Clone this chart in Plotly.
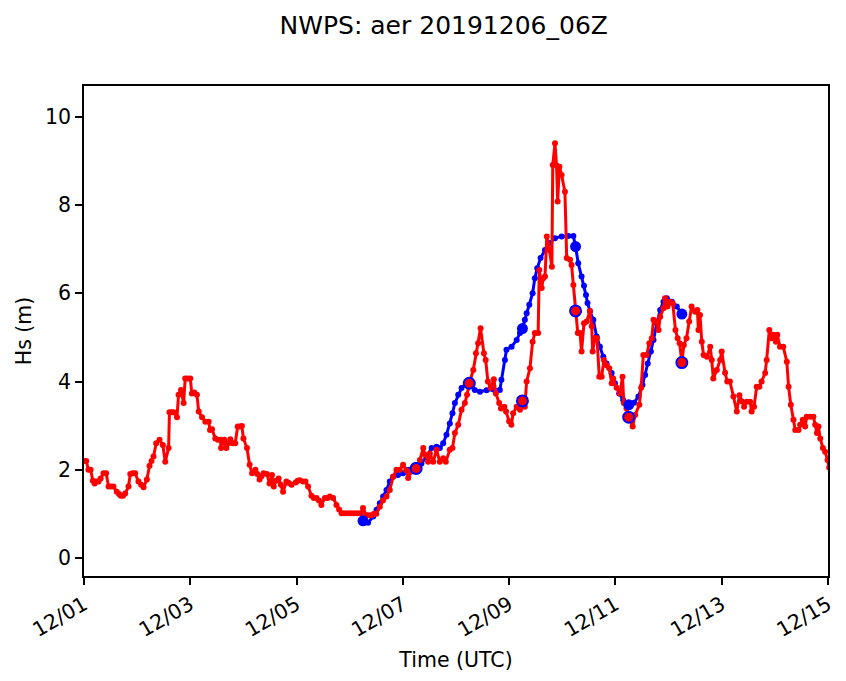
import pandas as pd
import plotly.graph_objects as go

# NWPS significant wave height, obs vs model run 20191206_06Z
start = pd.Timestamp("2019-12-01 00:00")

# observations (hours after 12/01 00Z, Hs in m)
obs_hours = [0, 1, 2, 3, 4, 4.8, 5.6, 6.6, 7.5, 8.8, 10, 11.1, 12.2, 13.3, 14.8, 15.8, 16.6, 17.6,
             18.6, 20.1, 20.9, 22, 23.1, 24.6, 25.8, 26.9, 28.4, 29.6, 30.5, 31.4, 32.6, 34.1, 35.6,
             36.7, 38.2, 38.6, 39.6, 40.5, 42, 42.7, 43.8, 45, 45.7, 46.8, 48, 48.7, 49.8, 51, 51.8,
             53.3, 54.8, 56.3, 56.9, 57.8, 59.3, 60.5, 61.6, 61.9, 63.4, 64.3, 65.2, 66.1, 67.2, 68.3,
             69.4, 70.4, 71.3, 72, 73.6, 74.8, 75.9, 77.4, 78.3, 79.3, 80.2, 81.1, 82.6, 83.8, 84.9,
             85.7, 86.8, 87.9, 88.9, 89.9, 91.4, 92.5, 93.7, 95.6, 96.5, 97.4, 98.9, 100, 101.2,
             102.7, 103.8, 105, 106.1, 107.2, 108.8, 110, 111, 112.5, 114, 115.2, 116.3, 117.5, 119,
             120.5, 122, 123.5, 125, 126, 127.5, 128.7, 129.8, 131, 132, 133.6, 135, 136.6, 138.1,
             139.6, 141.1, 142.6, 144.1, 145.6, 146.4, 147.9, 149, 150, 151.7, 153.2, 154, 155.4,
             156.2, 157.7, 159.2, 160.7, 162.2, 163.4, 165.2, 166.4, 167.5, 169, 170.5, 172, 173,
             174, 175.8, 177, 178, 179.1, 180.6, 181.4, 182.4, 183.6, 185.1, 186, 187.5, 188.3,
             189.8, 190.6, 192, 193, 193.8, 195.4, 196.9, 198, 199.1, 199.9, 201.4, 202.6, 203.6,
             205.1, 205.6, 206.7, 207.4, 208.2, 209, 210.2, 211.3, 211.7, 212.7, 213.4, 213.9,
             214.7, 215.7, 217.2, 218, 219.5, 220.2, 221, 222, 223, 224, 224.7, 225.8, 227, 228.5,
             229.3, 229.7, 230.7, 231.7, 232.7, 233.8, 234.8, 236, 237.2, 238.3, 239, 240.5, 242,
             243.2, 243.8, 245, 246, 247.8, 248.9, 250.8, 251.6, 252.6, 254.1, 255.3, 256.4, 257.2,
             258.4, 259.5, 260.2, 261.7, 262.4, 263.5, 264.7, 265.9, 267.1, 268.1, 269, 270, 270.9,
             272.1, 273.3, 274.4, 276, 277, 277.5, 278.2, 279, 279.8, 281.3, 282.8, 283.5, 284.2,
             285.8, 287.3, 288, 289.5, 290.5, 291.7, 293.3, 294.8, 296, 297, 298.1, 299.3, 300.8,
             301.5, 302.6, 303.8, 305, 306, 307.6, 308.3, 309.5, 310.5, 311.3, 312.5, 313.1, 314.3,
             315.8, 317.4, 318.2, 319.2, 320.4, 321.2, 322.7, 323.4, 324.6, 325.7, 326.4, 327.9,
             329.4, 330.2, 331, 331.7, 332.5, 333.7, 334.7, 335.8, 336.5]
obs_hs = [2.2, 2.2, 2.0, 2.0, 1.75, 1.69, 1.73, 1.73, 1.8, 1.92, 1.92, 1.62, 1.62, 1.62, 1.5, 1.45, 1.41, 1.41,
          1.46, 1.62, 1.9, 1.92, 1.92, 1.73, 1.66, 1.6, 1.78, 2.09, 2.2, 2.3, 2.6, 2.68, 2.56,
          2.18, 2.49, 3.3, 3.3, 3.3, 3.19, 3.7, 3.81, 3.51, 4.07, 4.07, 4.07, 3.73, 3.75, 3.7, 3.32,
          3.19, 3.09, 3.09, 2.9, 2.92, 2.71, 2.68, 2.68, 2.49, 2.68, 2.49, 2.6, 2.69, 2.6, 2.6,
          2.98, 2.98, 2.99, 2.71, 2.49, 2.11, 1.92, 2.0, 1.9, 1.78, 1.85, 1.92, 1.9, 1.69, 1.88,
          1.62, 1.75, 1.8, 1.66, 1.5, 1.73, 1.7, 1.66, 1.71, 1.75, 1.76, 1.73, 1.73, 1.62,
          1.41, 1.36, 1.36, 1.3, 1.2, 1.36, 1.36, 1.39, 1.36, 1.2, 1.1, 1.01, 1.01, 1.01,
          1.01, 1.01, 1.01, 1.01, 1.13, 0.97, 0.97, 0.97, 1.0, 1.0, 1.16, 1.3, 1.39, 1.54,
          1.84, 2.0, 2.0, 2.11, 1.99, 1.81, 1.96, 2.0, 2.03, 2.22, 2.49, 2.34, 2.18,
          2.37, 2.18, 2.45, 2.18, 2.26, 2.18, 2.45, 2.49, 2.83, 3.02, 3.36, 3.51, 3.7,
          3.96, 4.26, 4.64, 4.87, 5.21, 4.64, 4.49, 4.0, 3.85, 4.05, 3.73, 3.51, 3.39,
          3.43, 3.32, 3.1, 3.02, 3.28, 3.43, 3.36, 3.56, 3.43, 4.0, 4.3, 4.9, 5.1,
          5.1, 6.53, 6.12, 6.34, 6.38, 7.29, 6.98, 6.6, 8.91, 9.4, 8.9, 8.08,
          8.87, 8.68, 8.3, 6.8, 6.76, 6.64, 6.19, 5.6, 5.1, 5.1, 4.68, 5.32, 5.36, 5.6,
          5.25, 4.68, 4.98, 4.98, 4.11, 4.11, 4.49, 4.37, 4.3, 3.96, 4.07, 3.86, 3.73,
          4.11, 3.51, 3.39, 3.19, 2.98, 3.24, 3.47, 3.86, 4.6, 4.6, 4.87, 4.98, 5.4,
          5.36, 5.17, 5.47, 5.66, 5.89, 5.7, 5.81, 5.77, 5.17, 4.98, 4.87, 4.43, 4.83,
          4.98, 5.36, 5.7, 5.58, 5.62, 5.17, 5.51, 4.9, 4.6, 4.56, 4.79, 4.49, 4.07,
          4.26, 4.49, 4.68, 4.2, 4.0, 4.0, 3.66, 3.32, 3.69, 3.55, 3.43, 3.54, 3.54,
          3.32, 3.43, 3.88, 3.88, 4.0, 4.19, 4.49, 5.17, 4.98, 5.06, 4.9, 5.06, 4.79,
          4.79, 4.45, 3.88, 3.47, 3.13, 2.9, 2.9, 3.02, 3.13, 2.98, 3.2, 3.2,
          3.2, 3.02, 2.83, 2.98, 2.71, 2.49, 2.41, 2.22, 2.05]

# model forecast from the 12/06 06Z cycle
model_hours = [126, 128.3, 130.6, 132.1, 133.6, 135.1, 136.6, 138.1, 139.6, 141.8, 144.1, 146.4, 148.7,
               150, 152.4, 154.7, 157, 159.2, 160.7, 162.2, 163.7, 165.2, 166.4, 167.5, 169, 170.5,
               172.7, 174, 176.5, 178.8, 181.8, 184.8, 187.8, 188.5, 190.1, 190.8, 193.1, 195.4,
               196.9, 198, 199.1, 199.9, 201.1, 202.6, 203.6, 204.7, 206.2, 208.2, 210.4, 212.7,
               215.7, 218.7, 221, 222, 223.2, 224.7, 225.8, 226.7, 227.4, 228.5, 230, 231.5, 233,
               234.5, 236, 238.3, 239.8, 241.7, 243.5, 246, 248.4, 250.4, 252.2, 253.4, 254.6, 256,
               257.2, 258.7, 260.2, 261.7, 263.2, 265.5, 267.7, 270]
model_hs = [0.84, 0.8, 0.94, 1.09, 1.24, 1.39, 1.54, 1.73, 1.84, 1.88, 1.92, 2.0, 2.03,
            2.05, 2.14, 2.3, 2.49, 2.52, 2.49, 2.6, 2.79, 3.05, 3.28, 3.51, 3.7, 3.85,
            3.96, 3.97, 3.81, 3.77, 3.8, 3.82, 3.81, 4.04, 4.49, 4.72, 4.79, 4.94,
            5.1, 5.2, 5.4, 5.55, 5.74, 6.0, 6.34, 6.57, 6.8, 6.98, 7.14, 7.25,
            7.29, 7.3, 7.3, 7.06, 6.68, 6.38, 6.17, 5.96, 5.78, 5.59, 5.4, 5.02, 4.79,
            4.56, 4.41, 4.19, 3.96, 3.73, 3.58, 3.47, 3.52, 3.66, 3.92, 4.15, 4.41, 4.68,
            4.94, 5.32, 5.62, 5.81, 5.89, 5.81, 5.7, 5.53]

# daily 06Z points
model_day_hours = [126, 150, 174, 198, 222, 246, 270]
model_day_hs = [0.84, 2.05, 3.97, 5.2, 7.06, 3.47, 5.53]
obs_day_hours = [150, 174, 198, 222, 246, 270]
obs_day_hs = [2.03, 3.96, 3.56, 5.6, 3.19, 4.43]


def to_time(hours):
    return start + pd.to_timedelta(hours, unit="h")


fig = go.Figure()
fig.add_trace(go.Scatter(x=to_time(model_hours), y=model_hs, mode="lines+markers",
                         line=dict(color="#0000ff", width=3), marker=dict(size=6, color="#0000ff")))
fig.add_trace(go.Scatter(x=to_time(obs_hours), y=obs_hs, mode="lines+markers",
                         line=dict(color="#ff0000", width=3), marker=dict(size=6, color="#ff0000")))
fig.add_trace(go.Scatter(x=to_time(model_day_hours), y=model_day_hs, mode="markers",
                         marker=dict(size=11, color="#0000ff")))
fig.add_trace(go.Scatter(x=to_time(obs_day_hours), y=obs_day_hs, mode="markers",
                         marker=dict(size=11, color="#ff0000", line=dict(color="#0000ff", width=2))))

axis_style = dict(showline=True, linecolor="black", linewidth=1.5, mirror=True, showgrid=False,
                  zeroline=False, ticks="outside", ticklen=7, tickwidth=1.5, tickcolor="black",
                  tickfont=dict(size=20.5, color="black"), automargin=False)

# page body has an 8px margin, so the figure is a bit smaller than the window
fig.update_layout(
    width=830, height=665,
    margin=dict(l=76, r=10, t=78, b=97),
    plot_bgcolor="white", paper_bgcolor="white",
    showlegend=False,
    font=dict(family="DejaVu Sans", color="black"),
    title=dict(text="NWPS: aer 20191206_06Z", x=0.525, xanchor="center",
               y=0.974, yanchor="middle", font=dict(size=25, color="black")),
    xaxis=dict(axis_style, range=[start, to_time(336)], tickformat="%m/%d", dtick=2 * 86400000,
               tick0=start, tickangle=-30,
               title=dict(text="Time (UTC)", font=dict(size=20.5), standoff=12)),
    yaxis=dict(axis_style, range=[-0.41, 10.7], tickvals=[0, 2, 4, 6, 8, 10],
               title=dict(text="Hs (m)", font=dict(size=20.5), standoff=8)),
)

fig.write_html("out.html")
